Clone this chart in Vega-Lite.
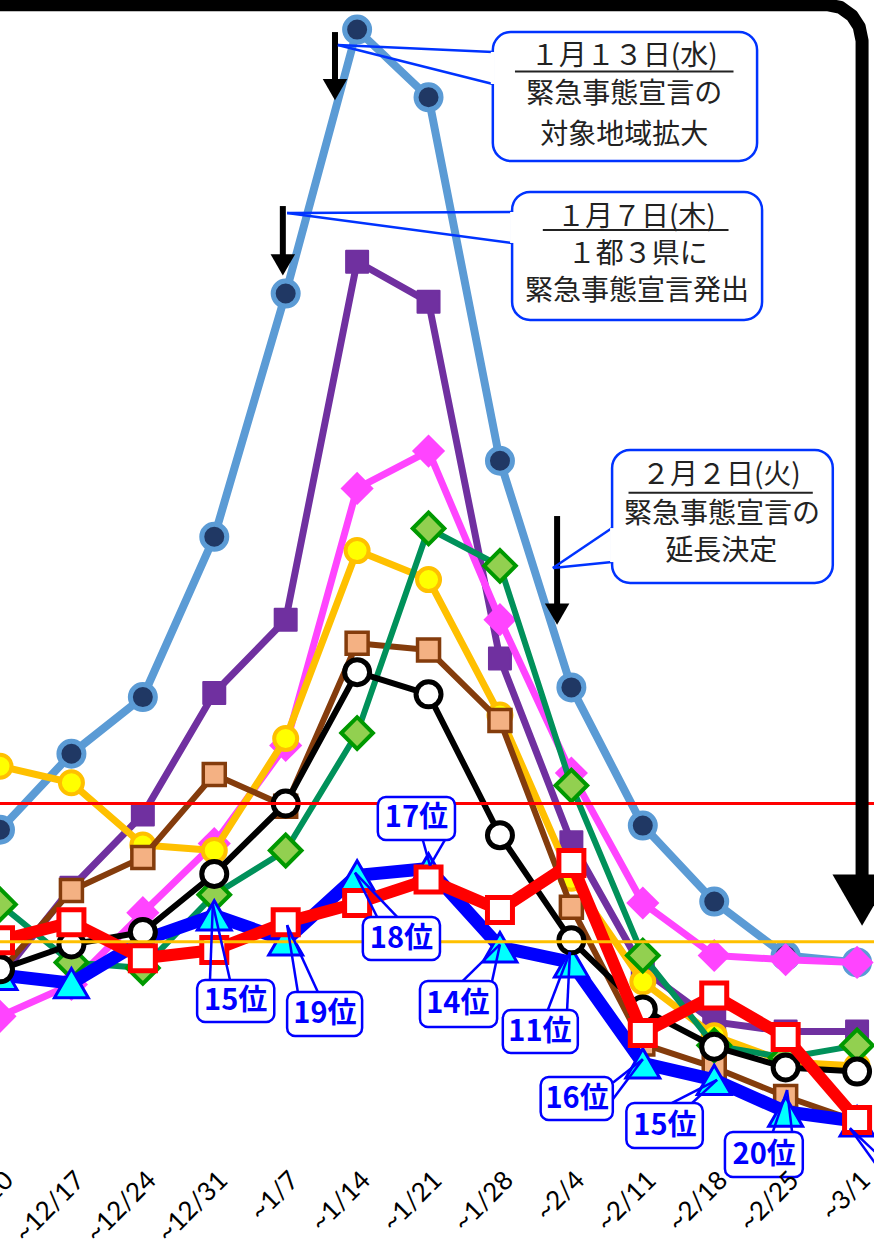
{
"$schema":"https://vega.github.io/schema/vega-lite/v6.json",
"usermeta":{"embedOptions":{"actions":false}},
"width":874,"height":1149,
"autosize":{"type":"none"},
"padding":{"left":0,"top":0,"right":0,"bottom":90},
"background":"#ffffff",
"config":{"view":{"stroke":null}},
"datasets":{
"weeks":[{"i":0,"label":"~12/10"},{"i":1,"label":"~12/17"},{"i":2,"label":"~12/24"},{"i":3,"label":"~12/31"},{"i":4,"label":"~1/7"},{"i":5,"label":"~1/14"},{"i":6,"label":"~1/21"},{"i":7,"label":"~1/28"},{"i":8,"label":"~2/4"},{"i":9,"label":"~2/11"},{"i":10,"label":"~2/18"},{"i":11,"label":"~2/25"},{"i":12,"label":"~3/1"}],
"series":[
{"s":"A","i":0,"v":23.1},{"s":"A","i":1,"v":28.6},{"s":"A","i":2,"v":32.7},{"s":"A","i":3,"v":44.3},{"s":"A","i":4,"v":61.9},{"s":"A","i":5,"v":81.0},{"s":"A","i":6,"v":76.1},{"s":"A","i":7,"v":49.8},{"s":"A","i":8,"v":33.4},{"s":"A","i":9,"v":23.4},{"s":"A","i":10,"v":17.9},{"s":"A","i":11,"v":14.0},{"s":"A","i":12,"v":13.5},
{"s":"B","i":0,"v":12.4},{"s":"B","i":1,"v":18.9},{"s":"B","i":2,"v":24.2},{"s":"B","i":3,"v":33.0},{"s":"B","i":4,"v":38.3},{"s":"B","i":5,"v":64.2},{"s":"B","i":6,"v":61.3},{"s":"B","i":7,"v":35.5},{"s":"B","i":8,"v":22.2},{"s":"B","i":9,"v":13.0},{"s":"B","i":10,"v":9.2},{"s":"B","i":11,"v":8.5},{"s":"B","i":12,"v":8.5},
{"s":"C","i":0,"v":9.6},{"s":"C","i":1,"v":11.9},{"s":"C","i":2,"v":17.1},{"s":"C","i":3,"v":22.1},{"s":"C","i":4,"v":29.2},{"s":"C","i":5,"v":47.8},{"s":"C","i":6,"v":50.5},{"s":"C","i":7,"v":38.3},{"s":"C","i":8,"v":27.2},{"s":"C","i":9,"v":17.8},{"s":"C","i":10,"v":14.0},{"s":"C","i":11,"v":13.7},{"s":"C","i":12,"v":13.5},
{"s":"D","i":0,"v":27.7},{"s":"D","i":1,"v":26.5},{"s":"D","i":2,"v":22.0},{"s":"D","i":3,"v":21.6},{"s":"D","i":4,"v":29.7},{"s":"D","i":5,"v":43.3},{"s":"D","i":6,"v":41.2},{"s":"D","i":7,"v":31.4},{"s":"D","i":8,"v":19.6},{"s":"D","i":9,"v":12.1},{"s":"D","i":10,"v":8.2},{"s":"D","i":11,"v":6.3},{"s":"D","i":12,"v":6.0},
{"s":"E","i":0,"v":12.8},{"s":"E","i":1,"v":18.7},{"s":"E","i":2,"v":21.1},{"s":"E","i":3,"v":27.1},{"s":"E","i":4,"v":24.8},{"s":"E","i":5,"v":36.6},{"s":"E","i":6,"v":36.1},{"s":"E","i":7,"v":31.0},{"s":"E","i":8,"v":17.5},{"s":"E","i":9,"v":7.6},{"s":"E","i":10,"v":5.9},{"s":"E","i":11,"v":3.8},{"s":"E","i":12,"v":2.0},
{"s":"F","i":0,"v":17.7},{"s":"F","i":1,"v":13.5},{"s":"F","i":2,"v":13.1},{"s":"F","i":3,"v":18.4},{"s":"F","i":4,"v":21.6},{"s":"F","i":5,"v":30.1},{"s":"F","i":6,"v":44.9},{"s":"F","i":7,"v":42.2},{"s":"F","i":8,"v":26.3},{"s":"F","i":9,"v":14.0},{"s":"F","i":10,"v":7.5},{"s":"F","i":11,"v":6.6},{"s":"F","i":12,"v":7.5},
{"s":"G","i":0,"v":13.0},{"s":"G","i":1,"v":14.8},{"s":"G","i":2,"v":15.7},{"s":"G","i":3,"v":19.9},{"s":"G","i":4,"v":25.0},{"s":"G","i":5,"v":34.5},{"s":"G","i":6,"v":32.9},{"s":"G","i":7,"v":22.7},{"s":"G","i":8,"v":15.1},{"s":"G","i":9,"v":10.1},{"s":"G","i":10,"v":7.4},{"s":"G","i":11,"v":5.9},{"s":"G","i":12,"v":5.6},
{"s":"H","i":0,"v":12.6},{"s":"H","i":1,"v":12.0},{"s":"H","i":2,"v":15.1},{"s":"H","i":3,"v":16.9},{"s":"H","i":4,"v":15.1},{"s":"H","i":5,"v":19.8},{"s":"H","i":6,"v":20.3},{"s":"H","i":7,"v":14.6},{"s":"H","i":8,"v":13.5},{"s":"H","i":9,"v":6.2},{"s":"H","i":10,"v":5.0},{"s":"H","i":11,"v":2.7},{"s":"H","i":12,"v":2.0},
{"s":"I","i":0,"v":15.1},{"s":"I","i":1,"v":16.4},{"s":"I","i":2,"v":13.8},{"s":"I","i":3,"v":14.4},{"s":"I","i":4,"v":16.4},{"s":"I","i":5,"v":17.8},{"s":"I","i":6,"v":19.5},{"s":"I","i":7,"v":17.3},{"s":"I","i":8,"v":20.7},{"s":"I","i":9,"v":8.4},{"s":"I","i":10,"v":11.1},{"s":"I","i":11,"v":8.1},{"s":"I","i":12,"v":2.1}
],
"refs":[{"name":"stage4","v":25},{"name":"stage3","v":15}],
"arrows":[{"i":4.69,"top":80.82,"bot":77.2,"head":76.66},{"i":3.96,"top":68.23,"bot":64.47,"head":63.97},{"i":7.8,"top":45.8,"bot":39.29,"head":38.71}],
"notes":[
{"n":1,"ax":4.73,"av":79.88,"p1v":79.38,"p2v":77.06,"x1":6.9,"x2":10.6,"v1":80.82,"v2":71.49,"ux1":7.21,"ux2":10.27,"uv":77.96},
{"n":2,"ax":4.02,"av":67.73,"p1v":67.8,"p2v":65.56,"x1":7.17,"x2":10.67,"v1":69.25,"v2":59.99,"ux1":7.6,"ux2":10.2,"uv":66.5},
{"n":3,"ax":7.74,"av":42.04,"p1v":44.93,"p2v":42.47,"x1":8.57,"x2":11.66,"v1":50.58,"v2":40.96,"ux1":8.8,"ux2":11.38,"uv":47.49}
],
"noteText":[
{"t":"１月１３日(水)","x":8.74,"v":78.98},{"t":"緊急事態宣言の","x":8.74,"v":76.27},{"t":"対象地域拡大","x":8.74,"v":73.33},
{"t":"１月７日(木)","x":8.91,"v":67.4},{"t":"１都３県に","x":8.93,"v":64.69},{"t":"緊急事態宣言発出","x":8.92,"v":61.98},
{"t":"２月２日(火)","x":10.1,"v":48.7},{"t":"緊急事態宣言の","x":10.11,"v":45.88},{"t":"延長決定","x":10.1,"v":43.2}
],
"ranks":[
{"r":"15位","ax":2.98,"av":17.7,"p1x":2.94,"p1v":12.23,"p2x":3.22,"p2v":12.23,"bx1":2.76,"bx2":3.84,"bv1":12.23,"bv2":9.19,"tx":3.3,"tv":10.7},
{"r":"19位","ax":4.02,"av":16.2,"p1x":4.17,"p1v":11.36,"p2x":4.45,"p2v":11.36,"bx1":4.02,"bx2":5.07,"bv1":11.36,"bv2":8.18,"tx":4.55,"tv":9.77},
{"r":"18位","ax":4.97,"av":20.0,"p1x":5.28,"p1v":16.79,"p2x":5.56,"p2v":16.79,"bx1":5.08,"bx2":6.16,"bv1":16.79,"bv2":13.68,"tx":5.62,"tv":15.2},
{"r":"17位","ax":6.02,"av":20.5,"p1x":5.92,"p1v":22.36,"p2x":6.23,"p2v":22.36,"bx1":5.29,"bx2":6.37,"bv1":25.47,"bv2":22.36,"tx":5.83,"tv":23.95},
{"r":"14位","ax":7.0,"av":14.8,"p1x":6.48,"p1v":12.16,"p2x":6.89,"p2v":12.16,"bx1":5.88,"bx2":6.96,"bv1":12.16,"bv2":8.83,"tx":6.41,"tv":10.49},
{"r":"11位","ax":7.98,"av":14.25,"p1x":7.67,"p1v":10.06,"p2x":7.94,"p2v":10.06,"bx1":7.04,"bx2":8.09,"bv1":10.06,"bv2":6.95,"tx":7.56,"tv":8.47},
{"r":"16位","ax":9.0,"av":6.5,"p1x":8.58,"p1v":4.8,"p2x":8.58,"p2v":3.6,"bx1":7.57,"bx2":8.58,"bv1":5.21,"bv2":2.1,"tx":8.08,"tv":3.62},
{"r":"15位","ax":10.04,"av":5.0,"p1x":9.41,"p1v":3.33,"p2x":9.69,"p2v":3.33,"bx1":8.77,"bx2":9.84,"bv1":3.33,"bv2":0.07,"tx":9.31,"tv":1.66},
{"r":"20位","ax":11.02,"av":4.27,"p1x":10.82,"p1v":1.23,"p2x":11.09,"p2v":1.23,"bx1":10.15,"bx2":11.24,"bv1":1.23,"bv2":-2.03,"tx":10.7,"tv":-0.43},
{"r":"","ax":11.9,"av":1.5,"p1x":12.6,"p1v":-1.9,"p2x":12.5,"p2v":-2.8,"bx1":12.5,"bx2":13.6,"bv1":-1.5,"bv2":-4.7,"tx":13.0,"tv":-3.0}
],
"frame":[{"o":0,"i":0,"v":82.8},{"o":1,"i":11.58,"v":82.8},{"o":2,"i":11.77,"v":82.6},{"o":3,"i":11.93,"v":82.0},{"o":4,"i":12.03,"v":81.2},{"o":5,"i":12.07,"v":80.2},{"o":6,"i":12.07,"v":19.5}],
"frameHead":[{"i":12.07,"v":18.0}]
},
"layer":[
{"data":{"name":"series"},"transform":[{"filter":"datum.s==='A'"}],"mark":{"type":"line","color":"#5b9bd5","strokeWidth":8,"strokeJoin":"round"},
 "encoding":{
  "x":{"field":"i","type":"quantitative","scale":{"domain":[0,12.237],"nice":false,"zero":false},"axis":null},
  "y":{"field":"v","type":"quantitative","scale":{"domain":[0,83.14],"nice":false,"zero":false},
   "axis":{"values":[0,5,10,15,20,25,30,35,40,45,50,55,60,65,70,75,80],"grid":true,"gridColor":"#d9d9d9","gridWidth":2.5,"labels":false,"ticks":false,"domain":false,"title":null}}}},
{"data":{"name":"series"},"transform":[{"filter":"datum.s==='A'"}],"mark":{"type":"point","shape":"circle","filled":true,"fill":"#203864","stroke":"#5b9bd5","strokeWidth":5,"size":625,"opacity":1},
 "encoding":{"x":{"field":"i","type":"quantitative","scale":{"domain":[0,12.237],"nice":false,"zero":false},"axis":null},"y":{"field":"v","type":"quantitative","scale":{"domain":[0,83.14],"nice":false,"zero":false},"axis":null}}},
{"data":{"name":"series"},"transform":[{"filter":"datum.s==='B'"}],"mark":{"type":"line","color":"#7030a0","strokeWidth":7,"strokeJoin":"round"},
 "encoding":{"x":{"field":"i","type":"quantitative","scale":{"domain":[0,12.237],"nice":false,"zero":false},"axis":null},"y":{"field":"v","type":"quantitative","scale":{"domain":[0,83.14],"nice":false,"zero":false},"axis":null}}},
{"data":{"name":"series"},"transform":[{"filter":"datum.s==='B'"}],"mark":{"type":"point","shape":"square","filled":true,"fill":"#7030a0","stroke":"#7030a0","strokeWidth":2,"strokeJoin":"round","size":484,"opacity":1},
 "encoding":{"x":{"field":"i","type":"quantitative","scale":{"domain":[0,12.237],"nice":false,"zero":false},"axis":null},"y":{"field":"v","type":"quantitative","scale":{"domain":[0,83.14],"nice":false,"zero":false},"axis":null}}},
{"data":{"name":"series"},"transform":[{"filter":"datum.s==='C'"}],"mark":{"type":"line","color":"#ff44ff","strokeWidth":7,"strokeJoin":"round"},
 "encoding":{"x":{"field":"i","type":"quantitative","scale":{"domain":[0,12.237],"nice":false,"zero":false},"axis":null},"y":{"field":"v","type":"quantitative","scale":{"domain":[0,83.14],"nice":false,"zero":false},"axis":null}}},
{"data":{"name":"series"},"transform":[{"filter":"datum.s==='C'"}],"mark":{"type":"point","shape":"diamond","filled":true,"fill":"#ff44ff","strokeWidth":0,"size":1100,"opacity":1},
 "encoding":{"x":{"field":"i","type":"quantitative","scale":{"domain":[0,12.237],"nice":false,"zero":false},"axis":null},"y":{"field":"v","type":"quantitative","scale":{"domain":[0,83.14],"nice":false,"zero":false},"axis":null}}},
{"data":{"name":"series"},"transform":[{"filter":"datum.s==='D'"}],"mark":{"type":"line","color":"#ffc000","strokeWidth":7,"strokeJoin":"round"},
 "encoding":{"x":{"field":"i","type":"quantitative","scale":{"domain":[0,12.237],"nice":false,"zero":false},"axis":null},"y":{"field":"v","type":"quantitative","scale":{"domain":[0,83.14],"nice":false,"zero":false},"axis":null}}},
{"data":{"name":"series"},"transform":[{"filter":"datum.s==='D'"}],"mark":{"type":"point","shape":"circle","filled":true,"fill":"#ffff00","stroke":"#ffc000","strokeWidth":4,"size":530,"opacity":1},
 "encoding":{"x":{"field":"i","type":"quantitative","scale":{"domain":[0,12.237],"nice":false,"zero":false},"axis":null},"y":{"field":"v","type":"quantitative","scale":{"domain":[0,83.14],"nice":false,"zero":false},"axis":null}}},
{"data":{"name":"series"},"transform":[{"filter":"datum.s==='E'"}],"mark":{"type":"line","color":"#843c0c","strokeWidth":6,"strokeJoin":"round"},
 "encoding":{"x":{"field":"i","type":"quantitative","scale":{"domain":[0,12.237],"nice":false,"zero":false},"axis":null},"y":{"field":"v","type":"quantitative","scale":{"domain":[0,83.14],"nice":false,"zero":false},"axis":null}}},
{"data":{"name":"series"},"transform":[{"filter":"datum.s==='E'"}],"mark":{"type":"point","shape":"square","filled":true,"fill":"#f4b183","stroke":"#843c0c","strokeWidth":3.5,"size":484,"opacity":1},
 "encoding":{"x":{"field":"i","type":"quantitative","scale":{"domain":[0,12.237],"nice":false,"zero":false},"axis":null},"y":{"field":"v","type":"quantitative","scale":{"domain":[0,83.14],"nice":false,"zero":false},"axis":null}}},
{"data":{"name":"series"},"transform":[{"filter":"datum.s==='F'"}],"mark":{"type":"line","color":"#00915a","strokeWidth":6,"strokeJoin":"round"},
 "encoding":{"x":{"field":"i","type":"quantitative","scale":{"domain":[0,12.237],"nice":false,"zero":false},"axis":null},"y":{"field":"v","type":"quantitative","scale":{"domain":[0,83.14],"nice":false,"zero":false},"axis":null}}},
{"data":{"name":"series"},"transform":[{"filter":"datum.s==='F'"}],"mark":{"type":"point","shape":"diamond","filled":true,"fill":"#92d050","stroke":"#009900","strokeWidth":4,"size":1000,"opacity":1},
 "encoding":{"x":{"field":"i","type":"quantitative","scale":{"domain":[0,12.237],"nice":false,"zero":false},"axis":null},"y":{"field":"v","type":"quantitative","scale":{"domain":[0,83.14],"nice":false,"zero":false},"axis":null}}},
{"data":{"name":"series"},"transform":[{"filter":"datum.s==='H'"}],"mark":{"type":"line","color":"#0000ff","strokeWidth":13,"strokeJoin":"round"},
 "encoding":{"x":{"field":"i","type":"quantitative","scale":{"domain":[0,12.237],"nice":false,"zero":false},"axis":null},"y":{"field":"v","type":"quantitative","scale":{"domain":[0,83.14],"nice":false,"zero":false},"axis":null}}},
{"data":{"name":"series"},"transform":[{"filter":"datum.s==='H'"}],"mark":{"type":"point","shape":"triangle-up","filled":true,"fill":"#00ffff","stroke":"#0000ff","strokeWidth":3,"size":1150,"opacity":1},
 "encoding":{"x":{"field":"i","type":"quantitative","scale":{"domain":[0,12.237],"nice":false,"zero":false},"axis":null},"y":{"field":"v","type":"quantitative","scale":{"domain":[0,83.14],"nice":false,"zero":false},"axis":null}}},
{"data":{"name":"series"},"transform":[{"filter":"datum.s==='G'"}],"mark":{"type":"line","color":"#000000","strokeWidth":6,"strokeJoin":"round"},
 "encoding":{"x":{"field":"i","type":"quantitative","scale":{"domain":[0,12.237],"nice":false,"zero":false},"axis":null},"y":{"field":"v","type":"quantitative","scale":{"domain":[0,83.14],"nice":false,"zero":false},"axis":null}}},
{"data":{"name":"series"},"transform":[{"filter":"datum.s==='G'"}],"mark":{"type":"point","shape":"circle","filled":true,"fill":"#ffffff","stroke":"#000000","strokeWidth":5,"size":625,"opacity":1},
 "encoding":{"x":{"field":"i","type":"quantitative","scale":{"domain":[0,12.237],"nice":false,"zero":false},"axis":null},"y":{"field":"v","type":"quantitative","scale":{"domain":[0,83.14],"nice":false,"zero":false},"axis":null}}},
{"data":{"name":"series"},"transform":[{"filter":"datum.s==='I'"}],"mark":{"type":"line","color":"#ff0000","strokeWidth":12,"strokeJoin":"round"},
 "encoding":{"x":{"field":"i","type":"quantitative","scale":{"domain":[0,12.237],"nice":false,"zero":false},"axis":null},"y":{"field":"v","type":"quantitative","scale":{"domain":[0,83.14],"nice":false,"zero":false},"axis":null}}},
{"data":{"name":"series"},"transform":[{"filter":"datum.s==='I'"}],"mark":{"type":"point","shape":"square","filled":true,"fill":"#ffffff","stroke":"#ff0000","strokeWidth":5,"size":625,"opacity":1},
 "encoding":{"x":{"field":"i","type":"quantitative","scale":{"domain":[0,12.237],"nice":false,"zero":false},"axis":null},"y":{"field":"v","type":"quantitative","scale":{"domain":[0,83.14],"nice":false,"zero":false},"axis":null}}},
{"data":{"name":"refs"},"transform":[{"filter":"datum.name==='stage4'"}],"mark":{"type":"rule","color":"#ff0000","strokeWidth":3},
 "encoding":{"y":{"field":"v","type":"quantitative","scale":{"domain":[0,83.14],"nice":false,"zero":false},"axis":null}}},
{"data":{"name":"refs"},"transform":[{"filter":"datum.name==='stage3'"}],"mark":{"type":"rule","color":"#ffc000","strokeWidth":3},
 "encoding":{"y":{"field":"v","type":"quantitative","scale":{"domain":[0,83.14],"nice":false,"zero":false},"axis":null}}},
{"data":{"name":"arrows"},"mark":{"type":"rule","color":"#000000","strokeWidth":6},
 "encoding":{"x":{"field":"i","type":"quantitative","scale":{"domain":[0,12.237],"nice":false,"zero":false},"axis":null},"y":{"field":"top","type":"quantitative","scale":{"domain":[0,83.14],"nice":false,"zero":false},"axis":null},"y2":{"field":"bot"}}},
{"data":{"name":"arrows"},"mark":{"type":"point","shape":"triangle-down","filled":true,"fill":"#000000","strokeWidth":0,"size":600,"opacity":1},
 "encoding":{"x":{"field":"i","type":"quantitative","scale":{"domain":[0,12.237],"nice":false,"zero":false},"axis":null},"y":{"field":"head","type":"quantitative","scale":{"domain":[0,83.14],"nice":false,"zero":false},"axis":null}}},
{"data":{"name":"notes"},"mark":{"type":"rule","color":"#0033ff","strokeWidth":2.5},
 "encoding":{"x":{"field":"ax","type":"quantitative","scale":{"domain":[0,12.237],"nice":false,"zero":false},"axis":null},"y":{"field":"av","type":"quantitative","scale":{"domain":[0,83.14],"nice":false,"zero":false},"axis":null},"x2":{"field":"x1"},"y2":{"field":"p1v"}}},
{"data":{"name":"notes"},"mark":{"type":"rule","color":"#0033ff","strokeWidth":2.5},
 "encoding":{"x":{"field":"ax","type":"quantitative","scale":{"domain":[0,12.237],"nice":false,"zero":false},"axis":null},"y":{"field":"av","type":"quantitative","scale":{"domain":[0,83.14],"nice":false,"zero":false},"axis":null},"x2":{"field":"x1"},"y2":{"field":"p2v"}}},
{"data":{"name":"notes"},"mark":{"type":"rect","fill":"#ffffff","stroke":"#0033ff","strokeWidth":2.5,"cornerRadius":18},
 "encoding":{"x":{"field":"x1","type":"quantitative","scale":{"domain":[0,12.237],"nice":false,"zero":false},"axis":null},"x2":{"field":"x2"},"y":{"field":"v1","type":"quantitative","scale":{"domain":[0,83.14],"nice":false,"zero":false},"axis":null},"y2":{"field":"v2"}}},
{"data":{"name":"notes"},"mark":{"type":"rule","color":"#ffffff","strokeWidth":4},
 "encoding":{"x":{"field":"x1","type":"quantitative","scale":{"domain":[0,12.237],"nice":false,"zero":false},"axis":null},"y":{"field":"p1v","type":"quantitative","scale":{"domain":[0,83.14],"nice":false,"zero":false},"axis":null},"y2":{"field":"p2v"}}},
{"data":{"name":"notes"},"mark":{"type":"rule","color":"#222222","strokeWidth":2},
 "encoding":{"x":{"field":"ux1","type":"quantitative","scale":{"domain":[0,12.237],"nice":false,"zero":false},"axis":null},"x2":{"field":"ux2"},"y":{"field":"uv","type":"quantitative","scale":{"domain":[0,83.14],"nice":false,"zero":false},"axis":null}}},
{"data":{"name":"noteText"},"mark":{"type":"text","font":"Noto Sans CJK JP","fontSize":28,"color":"#222222","align":"center","baseline":"middle"},
 "encoding":{"x":{"field":"x","type":"quantitative","scale":{"domain":[0,12.237],"nice":false,"zero":false},"axis":null},"y":{"field":"v","type":"quantitative","scale":{"domain":[0,83.14],"nice":false,"zero":false},"axis":null},"text":{"field":"t"}}},
{"data":{"name":"ranks"},"mark":{"type":"rule","color":"#0000ff","strokeWidth":2.5},
 "encoding":{"x":{"field":"ax","type":"quantitative","scale":{"domain":[0,12.237],"nice":false,"zero":false},"axis":null},"y":{"field":"av","type":"quantitative","scale":{"domain":[0,83.14],"nice":false,"zero":false},"axis":null},"x2":{"field":"p1x"},"y2":{"field":"p1v"}}},
{"data":{"name":"ranks"},"mark":{"type":"rule","color":"#0000ff","strokeWidth":2.5},
 "encoding":{"x":{"field":"ax","type":"quantitative","scale":{"domain":[0,12.237],"nice":false,"zero":false},"axis":null},"y":{"field":"av","type":"quantitative","scale":{"domain":[0,83.14],"nice":false,"zero":false},"axis":null},"x2":{"field":"p2x"},"y2":{"field":"p2v"}}},
{"data":{"name":"ranks"},"mark":{"type":"rect","fill":"#ffffff","stroke":"#0000ff","strokeWidth":2.5,"cornerRadius":8},
 "encoding":{"x":{"field":"bx1","type":"quantitative","scale":{"domain":[0,12.237],"nice":false,"zero":false},"axis":null},"x2":{"field":"bx2"},"y":{"field":"bv1","type":"quantitative","scale":{"domain":[0,83.14],"nice":false,"zero":false},"axis":null},"y2":{"field":"bv2"}}},
{"data":{"name":"ranks"},"mark":{"type":"text","font":"Noto Sans CJK JP","fontSize":29,"fontWeight":"bold","color":"#0000ff","align":"center","baseline":"middle"},
 "encoding":{"x":{"field":"tx","type":"quantitative","scale":{"domain":[0,12.237],"nice":false,"zero":false},"axis":null},"y":{"field":"tv","type":"quantitative","scale":{"domain":[0,83.14],"nice":false,"zero":false},"axis":null},"text":{"field":"r"}}},
{"data":{"name":"frame"},"mark":{"type":"line","color":"#000000","strokeWidth":13,"strokeJoin":"round"},
 "encoding":{"x":{"field":"i","type":"quantitative","scale":{"domain":[0,12.237],"nice":false,"zero":false},"axis":null},"y":{"field":"v","type":"quantitative","scale":{"domain":[0,83.14],"nice":false,"zero":false},"axis":null},"order":{"field":"o","type":"quantitative"}}},
{"data":{"name":"frameHead"},"mark":{"type":"point","shape":"triangle-down","filled":true,"fill":"#000000","strokeWidth":0,"size":3500,"opacity":1},
 "encoding":{"x":{"field":"i","type":"quantitative","scale":{"domain":[0,12.237],"nice":false,"zero":false},"axis":null},"y":{"field":"v","type":"quantitative","scale":{"domain":[0,83.14],"nice":false,"zero":false},"axis":null}}},
{"data":{"name":"weeks"},"mark":{"type":"text","font":"Lato","fontSize":26,"color":"#000000","angle":315,"align":"right","baseline":"top"},
 "encoding":{"x":{"field":"i","type":"quantitative","scale":{"domain":[0,12.237],"nice":false,"zero":false},"axis":null},"y":{"datum":-1.3,"type":"quantitative","scale":{"domain":[0,83.14],"nice":false,"zero":false},"axis":null},"text":{"field":"label"}}}
]
}
